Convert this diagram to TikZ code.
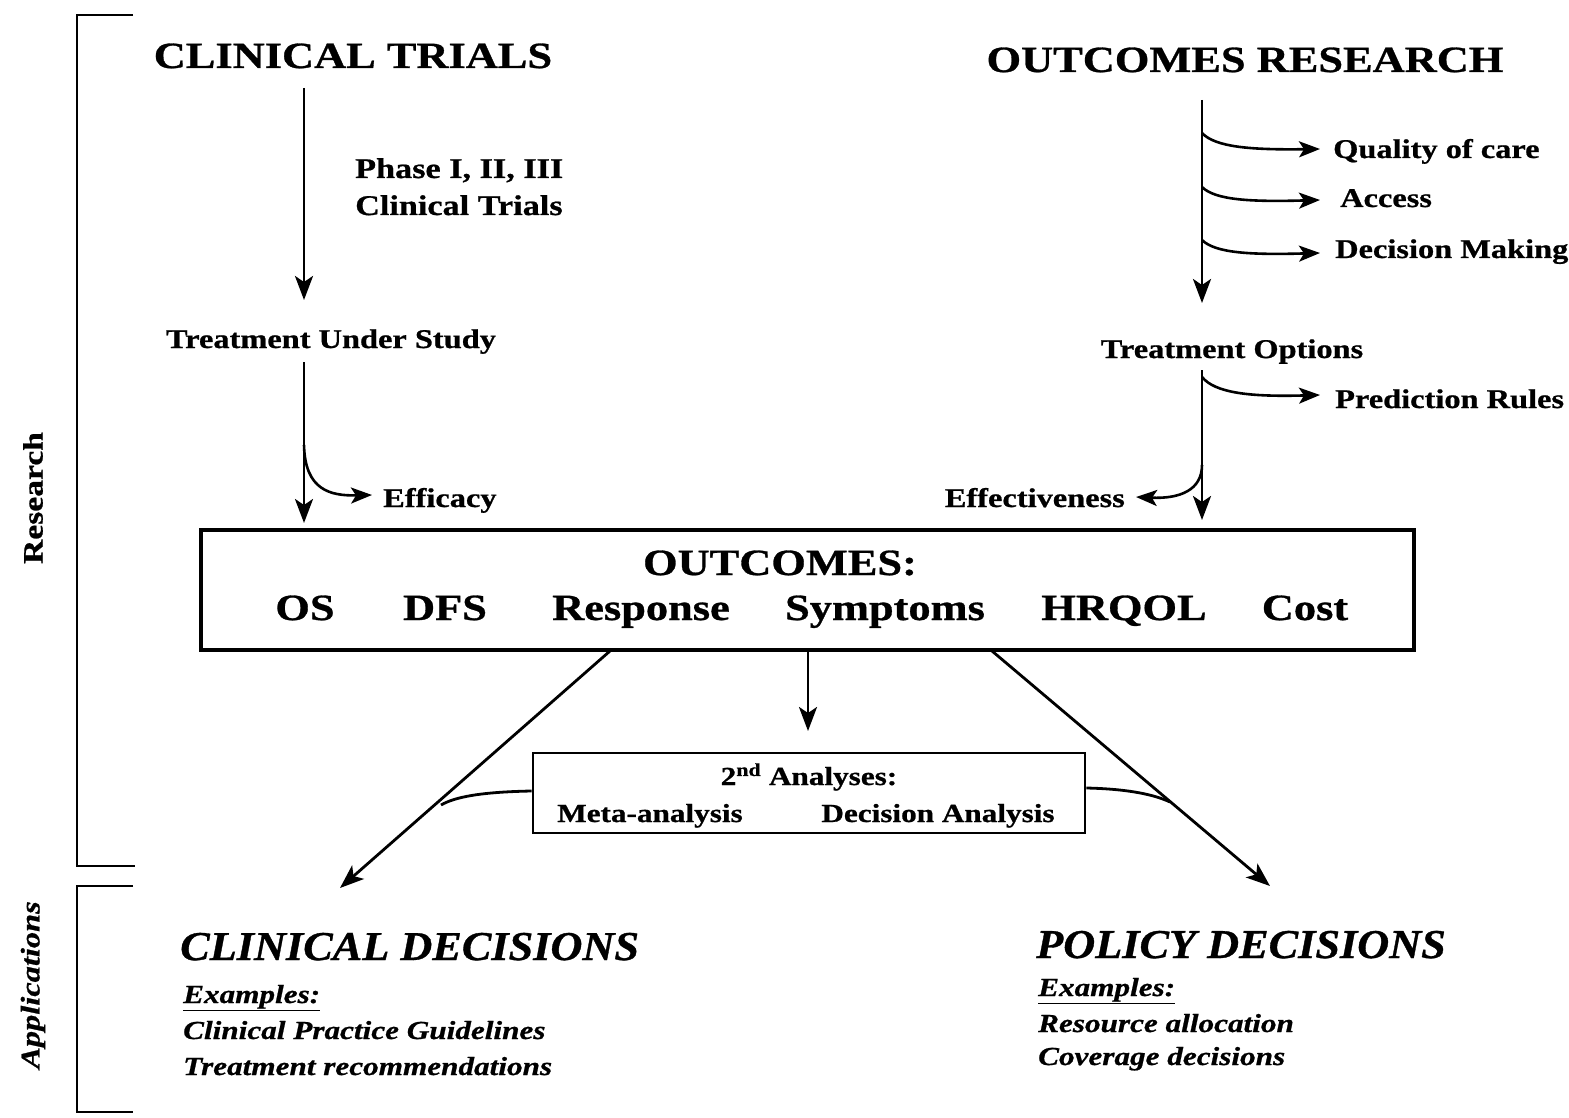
\documentclass[tikz,border=0pt]{standalone}
\usepackage{fontspec}
\setmainfont{Liberation Serif}[FakeStretch=1.2, FakeBold=0.8]
\newfontfamily\headfont{Liberation Serif}[FakeStretch=1.08, FakeBold=0.8]
\usetikzlibrary{arrows.meta}
\newcommand{\fsz}[1]{\fontsize{#1}{#1}\selectfont}
\begin{document}
\begin{tikzpicture}[x=1pt,y=-1pt,
  lbl/.style={inner sep=0pt, font=\bfseries\fsz{27}},
  big/.style={inner sep=0pt, font=\bfseries\fsz{37}},
  mid/.style={inner sep=0pt, font=\bfseries\fsz{37}},
  head/.style={inner sep=0pt, font=\headfont\bfseries\itshape\fsz{41}},
  exl/.style={inner sep=0pt, font=\bfseries\itshape\fsz{26}, anchor=base west},
  ln/.style={line width=2.8pt},
  arr/.style={line width=2.8pt, -{Stealth[length=24pt,width=18pt,inset=6pt]}},
  brarr/.style={line width=2.6pt, -{Stealth[length=21pt,width=16pt,inset=5pt]}},
  boxst/.style={draw, line width=3.2pt, inner sep=0pt}]
\useasboundingbox (0,0) rectangle (1569,1118);

% brackets
\coordinate (r1) at (133,15); \coordinate (r2) at (77,15);
\coordinate (r3) at (77,866); \coordinate (r4) at (135,866);
\draw[ln] (r1) -- (r2) -- (r3) -- (r4);
\coordinate (p1) at (133,886); \coordinate (p2) at (77,886);
\coordinate (p3) at (77,1112); \coordinate (p4) at (133,1112);
\draw[ln] (p1) -- (p2) -- (p3) -- (p4);
\node[rotate=90, inner sep=0pt, font=\bfseries\fsz{28}] (research) at (33,498) {Research};
\node[rotate=90, inner sep=0pt, font=\bfseries\itshape\fsz{27}] (applic) at (33,985) {Applications};

% left column
\node[big, anchor=base] (ct) at (353,68) {CLINICAL TRIALS};
\node[lbl, anchor=base west, font=\bfseries\fsz{28.5}] (ph) at (355,178) {Phase I, II, III};
\node[lbl, anchor=base west, font=\bfseries\fsz{28.5}] (ph2) at (355,215) {Clinical Trials};
\node[lbl, anchor=base] (tus) at (331,348) {Treatment Under Study};
\node[lbl, anchor=base west] (eff) at (383,507) {Efficacy};
\coordinate (a1s) at (304,88); \coordinate (a1e) at (304,300);
\draw[arr] (a1s) -- (a1e);
\coordinate (a2s) at (304,362); \coordinate (a2e) at (304,523);
\draw[arr] (a2s) -- (a2e);
\coordinate (e1) at (304,445); \coordinate (e2) at (372,495);
\draw[brarr] (e1) .. controls (305,490) and (330,496) .. (e2);

% right column
\node[big, anchor=base] (or) at (1245,72) {OUTCOMES RESEARCH};
\node[lbl, anchor=base west] (qoc) at (1333,158) {Quality of care};
\node[lbl, anchor=base west] (acc) at (1340,207) {Access};
\node[lbl, anchor=base west] (dm) at (1335,258) {Decision Making};
\node[lbl, anchor=base] (to) at (1232,358) {Treatment Options};
\node[lbl, anchor=base west] (pr) at (1335,408) {Prediction Rules};
\node[lbl, anchor=base east] (effv) at (1125,507) {Effectiveness};
\coordinate (b1s) at (1202,100); \coordinate (b1e) at (1202,303);
\draw[arr] (b1s) -- (b1e);
\coordinate (b2s) at (1202,370); \coordinate (b2e) at (1202,520);
\draw[arr] (b2s) -- (b2e);
\coordinate (q1) at (1202,133); \coordinate (q2) at (1320,149);
\draw[brarr] (q1) .. controls (1215,147) and (1250,150) .. (q2);
\coordinate (c1) at (1202,187); \coordinate (c2) at (1320,200);
\draw[brarr] (c1) .. controls (1215,200) and (1250,202) .. (c2);
\coordinate (d1) at (1202,240); \coordinate (d2) at (1320,253);
\draw[brarr] (d1) .. controls (1215,253) and (1250,255) .. (d2);
\coordinate (pr1) at (1202,377); \coordinate (pr2) at (1320,395);
\draw[brarr] (pr1) .. controls (1215,393) and (1250,397) .. (pr2);
\coordinate (f1) at (1202,465); \coordinate (f2) at (1136,497);
\draw[brarr] (f1) .. controls (1202,490) and (1180,499) .. (f2);

% outcomes box
\node[boxst, minimum width=1213pt, minimum height=120pt] (ob) at (807.5,590) {};
\node[mid, anchor=base] (oc) at (780,575) {OUTCOMES:};
\node[mid, anchor=base] (os) at (305,620) {OS};
\node[mid, anchor=base] (dfs) at (445,620) {DFS};
\node[mid, anchor=base] (resp) at (641,620) {Response};
\node[mid, anchor=base] (sym) at (885,620) {Symptoms};
\node[mid, anchor=base] (hrq) at (1124,620) {HRQOL};
\node[mid, anchor=base] (cost) at (1305,620) {Cost};

% secondary analyses
\node[boxst, line width=2.8pt, minimum width=552pt, minimum height=80pt] (sb) at (809,793) {};
\node[lbl, anchor=base, font=\bfseries\fsz{26}] (sa) at (809,785) {2\textsuperscript{nd} Analyses:};
\node[lbl, anchor=base, font=\bfseries\fsz{26}] (ma) at (650,822) {Meta-analysis};
\node[lbl, anchor=base, font=\bfseries\fsz{26}] (da) at (938,822) {Decision Analysis};
\coordinate (dn1) at (808,650); \coordinate (dn2) at (808,731);
\draw[arr] (dn1) -- (dn2);

% diagonals
\coordinate (l1) at (610,651); \coordinate (l2) at (340,888);
\draw[arr] (l1) -- (l2);
\coordinate (rr1) at (992,651); \coordinate (rr2) at (1270,886);
\draw[arr] (rr1) -- (rr2);
\coordinate (lc) at (441,805); \coordinate (rc) at (1170,802);
\draw[ln] (sb.west |- 0,791) .. controls (480,792) and (455,797) .. (lc);
\draw[ln] (sb.east |- 0,788) .. controls (1130,789) and (1155,795) .. (rc);

% applications
\node[head, anchor=base west] (cd) at (180,960) {CLINICAL DECISIONS};
\node[exl] (ex1) at (183,1003) {\underline{Examples:}};
\node[exl] (cpg) at (183,1039) {Clinical Practice Guidelines};
\node[exl] (tr) at (183,1075) {Treatment recommendations};
\node[head, anchor=base west] (pd) at (1036,958) {POLICY DECISIONS};
\node[exl] (ex2) at (1038,996) {\underline{Examples:}};
\node[exl] (ra) at (1038,1032) {Resource allocation};
\node[exl] (cov) at (1038,1065) {Coverage decisions};
\end{tikzpicture}
\end{document}
